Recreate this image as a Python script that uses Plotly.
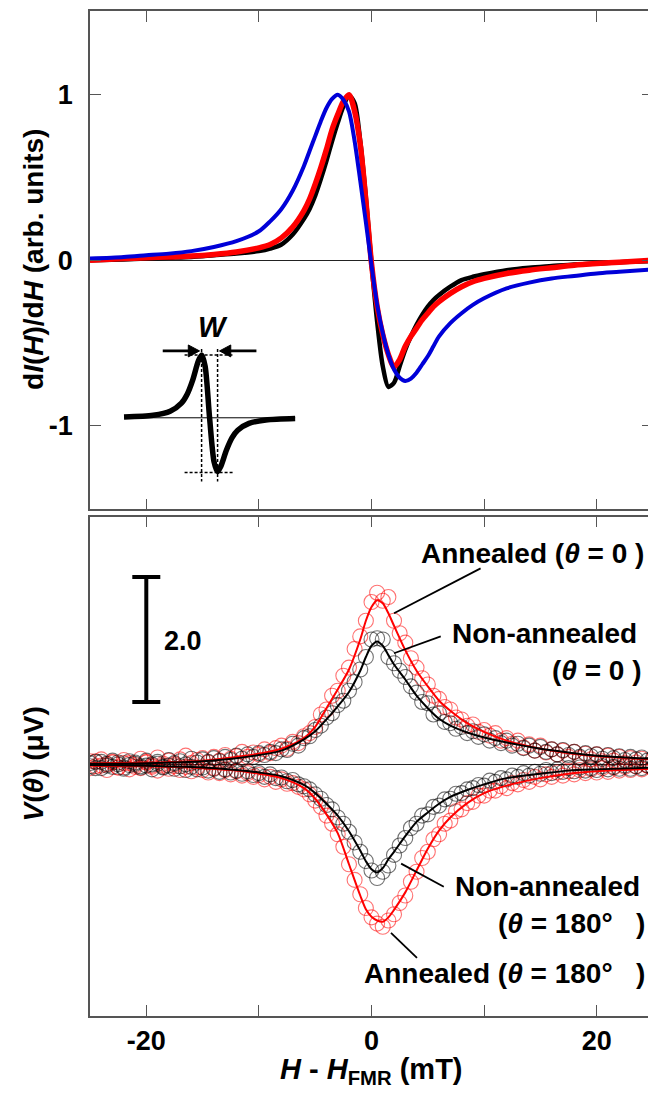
import plotly.graph_objects as go

# ---------------- top panel: FMR derivative spectra ----------------
top_field = [-25, -22, -20, -18, -16, -14, -12, -10, -9, -8, -7, -6, -5.5, -5, -4.5, -4, -3.5, -3,
             -2.5, -2, -1.5, -1, -0.5, 0, 0.5, 1, 1.5, 2, 2.5, 3, 3.5, 4, 4.5, 5, 5.5, 6,
             7, 8, 9, 10, 12, 14, 16, 18, 20, 22, 25]
fmr_black = [0.0, 0.005, 0.01, 0.015, 0.02, 0.03, 0.04, 0.055, 0.07, 0.095, 0.155, 0.25, 0.31, 0.39, 0.49, 0.6, 0.72, 0.83,
             0.93, 0.995, 0.95, 0.72, 0.38, -0.02, -0.37, -0.64, -0.765, -0.74, -0.64, -0.54, -0.46, -0.39, -0.33, -0.28, -0.24, -0.21,
             -0.16, -0.12, -0.1, -0.085, -0.06, -0.045, -0.035, -0.025, -0.02, -0.012, -0.005]
fmr_red = [0.0, 0.01, 0.015, 0.02, 0.025, 0.035, 0.05, 0.075, 0.095, 0.135, 0.2, 0.3, 0.37, 0.46, 0.56, 0.67, 0.79, 0.88,
           0.96, 1.0, 0.9, 0.7, 0.36, -0.02, -0.28, -0.45, -0.57, -0.645, -0.6, -0.52, -0.46, -0.41, -0.36, -0.32, -0.28, -0.25,
           -0.2, -0.16, -0.13, -0.11, -0.08, -0.06, -0.045, -0.03, -0.02, -0.012, 0.0]
fmr_blue = [0.01, 0.02, 0.03, 0.04, 0.055, 0.08, 0.115, 0.175, 0.235, 0.31, 0.42, 0.57, 0.66, 0.75, 0.84, 0.92, 0.975, 1.0,
            0.97, 0.9, 0.72, 0.48, 0.23, -0.03, -0.27, -0.44, -0.57, -0.66, -0.71, -0.73, -0.715, -0.68, -0.63, -0.58, -0.52, -0.46,
            -0.38, -0.32, -0.27, -0.23, -0.17, -0.135, -0.11, -0.095, -0.08, -0.07, -0.055]

# schematic inset (offsets from its centre)
inset_du = [-7.6, -5, -3.5, -2.5, -2, -1.5, -1.0, -0.7, -0.4, 0, 0.4, 0.7, 1.0, 1.5, 2, 2.5, 3.5, 5, 7.6]
inset_dv = [0.005, 0.015, 0.039, 0.088, 0.141, 0.228, 0.343, 0.38, 0.313, 0.0, -0.267, -0.325, -0.293, -0.195,
            -0.12, -0.075, -0.034, -0.013, -0.004]
inset_center = (-14.38, -0.952)

# ---------------- bottom panel: V(theta) ----------------
field_mT = [-25.0, -24.5, -24.0, -23.5, -23.0, -22.5, -22.0, -21.5, -21.0, -20.5,
            -20.0, -19.5, -19.0, -18.5, -18.0, -17.5, -17.0, -16.5, -16.0, -15.5,
            -15.0, -14.5, -14.0, -13.5, -13.0, -12.5, -12.0, -11.5, -11.0, -10.5,
            -10.0, -9.5, -9.0, -8.5, -8.0, -7.5, -7.0, -6.5, -6.0, -5.5,
            -5.0, -4.5, -4.0, -3.5, -3.0, -2.5, -2.0, -1.5, -1.0, -0.5,
            0.0, 0.5, 1.0, 1.5, 2.0, 2.5, 3.0, 3.5, 4.0, 4.5,
            5.0, 5.5, 6.0, 6.5, 7.0, 7.5, 8.0, 8.5, 9.0, 9.5,
            10.0, 10.5, 11.0, 11.5, 12.0, 12.5, 13.0, 13.5, 14.0, 14.5,
            15.0, 15.5, 16.0, 16.5, 17.0, 17.5, 18.0, 18.5, 19.0, 19.5,
            20.0, 20.5, 21.0, 21.5, 22.0, 22.5, 23.0, 23.5, 24.0, 24.5,
            25.0]
v_ann_0 = [0.05, -0.03, 0.08, 0.00, 0.04, -0.05, 0.07, 0.02, -0.04, 0.09,
           0.03, -0.02, 0.11, 0.01, 0.06, -0.03, 0.08, 0.14, 0.02, 0.07,
           0.10, 0.03, 0.12, 0.06, 0.15, 0.09, 0.13, 0.20, 0.12, 0.19,
           0.16, 0.24, 0.18, 0.26, 0.30, 0.25, 0.36, 0.34, 0.45, 0.50,
           0.60, 0.80, 0.88, 1.10, 1.18, 1.42, 1.55, 1.85, 2.05, 2.30,
           2.60, 2.75, 2.62, 2.68, 2.30, 2.10, 1.95, 1.70, 1.55, 1.38,
           1.28, 1.10, 1.05, 0.92, 0.88, 0.75, 0.72, 0.62, 0.64, 0.52,
           0.55, 0.46, 0.50, 0.38, 0.42, 0.33, 0.38, 0.27, 0.32, 0.22,
           0.30, 0.19, 0.24, 0.16, 0.22, 0.12, 0.20, 0.10, 0.17, 0.08,
           0.16, 0.05, 0.14, 0.06, 0.12, 0.02, 0.10, 0.03, 0.09, -0.02,
           0.07]
v_non_0 = [0.02, -0.06, 0.04, -0.02, 0.06, 0.00, -0.05, 0.05, 0.01, -0.03,
           0.06, 0.00, 0.04, -0.04, 0.07, 0.02, 0.05, 0.00, 0.09, 0.03,
           0.08, 0.04, 0.10, 0.05, 0.12, 0.07, 0.14, 0.09, 0.16, 0.12,
           0.18, 0.15, 0.20, 0.18, 0.24, 0.23, 0.33, 0.30, 0.42, 0.45,
           0.55, 0.62, 0.75, 0.82, 0.95, 1.02, 1.18, 1.32, 1.52, 1.72,
           2.00, 2.02, 2.00, 1.72, 1.62, 1.50, 1.40, 1.25, 1.15, 1.00,
           0.98, 0.80, 0.82, 0.68, 0.66, 0.57, 0.60, 0.50, 0.53, 0.44,
           0.48, 0.38, 0.42, 0.34, 0.38, 0.30, 0.33, 0.26, 0.30, 0.22,
           0.28, 0.20, 0.24, 0.16, 0.23, 0.15, 0.20, 0.12, 0.18, 0.13,
           0.16, 0.09, 0.15, 0.10, 0.13, 0.07, 0.12, 0.08, 0.11, 0.06,
           0.10]
v_non_180 = [-0.03, 0.04, -0.06, 0.01, -0.04, 0.03, -0.07, -0.01, 0.03, -0.05,
             -0.02, -0.08, 0.01, -0.05, -0.02, -0.07, -0.03, -0.09, -0.04, -0.08,
             -0.05, -0.10, -0.07, -0.12, -0.08, -0.13, -0.10, -0.15, -0.11, -0.17,
             -0.14, -0.20, -0.16, -0.22, -0.21, -0.27, -0.25, -0.32, -0.35, -0.40,
             -0.48, -0.55, -0.65, -0.72, -0.85, -0.95, -1.08, -1.25, -1.40, -1.55,
             -1.70, -1.82, -1.72, -1.62, -1.45, -1.30, -1.18, -1.02, -0.95, -0.82,
             -0.80, -0.68, -0.66, -0.56, -0.55, -0.47, -0.46, -0.40, -0.38, -0.33,
             -0.34, -0.26, -0.28, -0.22, -0.24, -0.18, -0.20, -0.14, -0.18, -0.12,
             -0.15, -0.09, -0.14, -0.08, -0.12, -0.06, -0.11, -0.05, -0.10, -0.06,
             -0.09, -0.03, -0.08, -0.04, -0.07, -0.02, -0.07, -0.03, -0.06, -0.01,
             -0.05]
v_ann_180 = [-0.06, 0.05, -0.02, -0.09, 0.03, -0.05, 0.02, -0.08, -0.01, -0.06,
             0.04, -0.04, -0.10, -0.02, -0.07, 0.00, -0.09, -0.04, -0.11, -0.05,
             -0.09, -0.13, -0.06, -0.14, -0.09, -0.16, -0.11, -0.18, -0.14, -0.20,
             -0.17, -0.24, -0.20, -0.28, -0.24, -0.31, -0.30, -0.36, -0.40, -0.48,
             -0.58, -0.68, -0.82, -0.95, -1.12, -1.32, -1.60, -1.85, -2.08, -2.30,
             -2.45, -2.55, -2.60, -2.50, -2.40, -2.22, -2.10, -1.88, -1.72, -1.50,
             -1.40, -1.20, -1.12, -0.95, -0.90, -0.75, -0.72, -0.62, -0.60, -0.50,
             -0.50, -0.42, -0.42, -0.35, -0.38, -0.30, -0.32, -0.25, -0.28, -0.20,
             -0.24, -0.16, -0.20, -0.13, -0.18, -0.11, -0.16, -0.09, -0.14, -0.08,
             -0.13, -0.06, -0.12, -0.05, -0.10, -0.04, -0.09, -0.03, -0.08, -0.02,
             -0.07]

fit_field = [-25, -20, -15, -12, -10, -8, -6, -5, -4, -3, -2, -1, -0.5, 0, 0.5, 1, 1.5, 2, 3, 4, 5, 6, 7,
             8.5, 10, 12, 15, 17.5, 20, 25]
fit_ann_0 = [0.02, 0.03, 0.06, 0.12, 0.17, 0.25, 0.42, 0.6, 0.9, 1.2, 1.52, 2.0, 2.3, 2.52, 2.63, 2.58, 2.42, 2.22,
             1.83, 1.5, 1.25, 1.02, 0.86, 0.66, 0.52, 0.38, 0.25, 0.18, 0.13, 0.08]
fit_non_0 = [0.01, 0.02, 0.05, 0.1, 0.15, 0.22, 0.4, 0.53, 0.72, 0.93, 1.16, 1.5, 1.72, 1.9, 1.97, 1.9, 1.75, 1.6,
             1.36, 1.1, 0.9, 0.73, 0.62, 0.51, 0.43, 0.35, 0.25, 0.19, 0.14, 0.09]
fit_non_180 = [-0.01, -0.02, -0.05, -0.09, -0.13, -0.19, -0.33, -0.46, -0.63, -0.82, -1.07, -1.38, -1.55, -1.68, -1.73,
               -1.66, -1.52, -1.4, -1.15, -0.92, -0.77, -0.63, -0.52, -0.41, -0.32, -0.22, -0.15, -0.1, -0.08, -0.05]
fit_ann_180 = [-0.02, -0.03, -0.06, -0.1, -0.15, -0.22, -0.38, -0.55, -0.8, -1.1, -1.6, -2.1, -2.32, -2.44, -2.5,
               -2.52, -2.45, -2.33, -2.05, -1.7, -1.35, -1.06, -0.85, -0.62, -0.46, -0.34, -0.22, -0.15, -0.11, -0.07]

scale_bar_x = -20
scale_bar_low = 1.0
scale_bar_high = 3.0

x_ticks_all = [-20, -10, 0, 10, 20]
x_ticks_labeled = [-20, 0, 20]
x_tick_text = ["-20", "0", "20"]
top_y_ticks = [-1, 0, 1]
top_y_tick_text = ["-1", "0", "1"]

FONT = "Liberation Sans, Arial, sans-serif"
RED = "#ff0000"
BLUE = "#0000d8"
NB = "\u00a0"

fig = go.Figure()

# top panel curves
fig.add_trace(go.Scatter(x=top_field, y=fmr_black, mode="lines", line=dict(color="black", width=4.5, shape="spline", smoothing=0.8),
                         xaxis="x", yaxis="y", showlegend=False))
fig.add_trace(go.Scatter(x=top_field, y=fmr_red, mode="lines", line=dict(color=RED, width=5.5, shape="spline", smoothing=0.8),
                         xaxis="x", yaxis="y", showlegend=False))
fig.add_trace(go.Scatter(x=top_field, y=fmr_blue, mode="lines", line=dict(color=BLUE, width=4, shape="spline", smoothing=0.8),
                         xaxis="x", yaxis="y", showlegend=False))

# inset schematic
cx, cy = inset_center
fig.add_trace(go.Scatter(x=[cx + u for u in inset_du], y=[cy + v for v in inset_dv], mode="lines",
                         line=dict(color="black", width=5.5, shape="spline", smoothing=0.8),
                         xaxis="x", yaxis="y", showlegend=False))

# bottom panel circles
for vals, col in [(v_ann_0, "rgba(255,0,0,0.55)"), (v_ann_180, "rgba(255,0,0,0.55)"),
                  (v_non_0, "rgba(0,0,0,0.55)"), (v_non_180, "rgba(0,0,0,0.55)")]:
    fig.add_trace(go.Scatter(x=field_mT, y=vals, mode="markers",
                             marker=dict(symbol="circle-open", size=15, color=col, line=dict(width=1.1, color=col)),
                             xaxis="x2", yaxis="y2", showlegend=False))
for vals, col in [(fit_ann_0, RED), (fit_ann_180, RED), (fit_non_0, "black"), (fit_non_180, "black")]:
    fig.add_trace(go.Scatter(x=fit_field, y=vals, mode="lines", line=dict(color=col, width=2, shape="spline", smoothing=0.8),
                             xaxis="x2", yaxis="y2", showlegend=False))

# scale bar
fig.add_trace(go.Scatter(x=[scale_bar_x], y=[(scale_bar_low + scale_bar_high) / 2], mode="markers",
                         marker=dict(size=1, color="rgba(0,0,0,0)"),
                         error_y=dict(type="data", array=[(scale_bar_high - scale_bar_low) / 2], visible=True,
                                      color="black", thickness=4, width=14),
                         xaxis="x2", yaxis="y2", showlegend=False))

axis_common = dict(showline=True, linecolor="#555", linewidth=1.5, mirror="ticks", ticks="inside",
                   ticklen=11, tickwidth=1.3, tickcolor="#555", showgrid=False,
                   tickfont=dict(family=FONT, size=27, color="black", weight="bold"))

fig.update_layout(
    width=648, height=1092,
    margin=dict(l=82, r=1, t=1, b=84),
    paper_bgcolor="white", plot_bgcolor="white",
    xaxis=dict(**axis_common, range=[-25, 25], tickvals=x_ticks_all, showticklabels=False, zeroline=False,
               anchor="y", domain=[0, 1]),
    yaxis=dict(**axis_common, range=[-1.506, 1.506], tickvals=top_y_ticks, ticktext=top_y_tick_text,
               zeroline=True, zerolinecolor="#222", zerolinewidth=1, domain=[0.504, 1.0], anchor="x",
               ticklabelstandoff=10),
    xaxis2=dict(**axis_common, range=[-25, 25], tickvals=x_ticks_labeled, ticktext=x_tick_text, zeroline=False,
                minor=dict(tick0=0, dtick=10, ticks="inside", ticklen=11, tickwidth=1.3, tickcolor="#555",
                           showgrid=False),
                anchor="y2", domain=[0, 1]),
    yaxis2=dict(showline=True, linecolor="#555", linewidth=1.5, mirror=True, ticks="", showticklabels=False,
                showgrid=False, range=[-4.03, 3.97], zeroline=True, zerolinecolor="#222", zerolinewidth=1,
                domain=[0.0, 0.497], anchor="x2"),
)

ann_font = dict(family=FONT, size=28, color="black", weight="bold")
annotations = [
    # axis titles
    dict(text="d<i>I</i>(<i>H</i>)/d<i>H</i> (arb. units)", xref="paper", yref="paper", x=-0.1, y=0.753,
         textangle=-90, showarrow=False, xanchor="center", yanchor="middle",
         font=dict(family=FONT, size=28, color="black", weight="bold")),
    dict(text="<i>V</i>(<i>θ</i>) (μV)", xref="paper", yref="paper", x=-0.1, y=0.251,
         textangle=-90, showarrow=False, xanchor="center", yanchor="middle",
         font=dict(family=FONT, size=28, color="black", weight="bold")),
    dict(text="<i>H</i> - <i>H</i><sub>FMR</sub> (mT)", xref="x2", yref="paper", x=0, y=-0.035,
         showarrow=False, xanchor="center", yanchor="top",
         font=dict(family=FONT, size=29, color="black", weight="bold")),
    # scale label
    dict(text="2.0", xref="x2", yref="y2", x=-18.6, y=1.97, showarrow=False, xanchor="left", yanchor="middle",
         font=dict(family=FONT, size=27, color="black", weight="bold")),
    # series labels
    dict(text="Annealed (<i>θ</i> = 0" + NB + ")", xref="x2", yref="y2", x=4.2, y=3.38, showarrow=False,
         xanchor="left", yanchor="middle", font=ann_font),
    dict(text="Non-annealed", xref="x2", yref="y2", x=7.0, y=2.1, showarrow=False,
         xanchor="left", yanchor="middle", font=ann_font),
    dict(text="(<i>θ</i> = 0" + NB + ")", xref="x2", yref="y2", x=24.2, y=1.51, showarrow=False,
         xanchor="right", yanchor="middle", font=ann_font),
    dict(text="Non-annealed", xref="x2", yref="y2", x=7.2, y=-1.96, showarrow=False,
         xanchor="left", yanchor="middle", font=ann_font),
    dict(text="(<i>θ</i> = 180°" + NB + NB + NB + ")", xref="x2", yref="y2", x=24.5, y=-2.55, showarrow=False,
         xanchor="right", yanchor="middle", font=ann_font),
    dict(text="Annealed (<i>θ</i> = 180°" + NB + NB + NB + ")", xref="x2", yref="y2", x=-0.85, y=-3.35,
         showarrow=False, xanchor="left", yanchor="middle", font=ann_font),
    # inset W label
    dict(text="<i>W</i>", xref="x", yref="y", x=-14.12, y=-0.404, showarrow=False, xanchor="center",
         yanchor="middle", font=dict(family=FONT, size=29, color="black", weight="bold")),
]
fig.update_layout(annotations=annotations)

dash = dict(color="black", width=1.5, dash="3px,2px")
arrow_y = -0.548
shapes = [
    # inset baseline
    dict(type="line", xref="x", yref="y", x0=cx + inset_du[0], x1=cx + inset_du[-1], y0=cy, y1=cy,
         line=dict(color="black", width=1)),
    # inset dashed guides
    dict(type="line", xref="x", yref="y", x0=-15.09, x1=-15.09, y0=-0.536, y1=-1.337, line=dash),
    dict(type="line", xref="x", yref="y", x0=-13.67, x1=-13.67, y0=-0.536, y1=-1.337, line=dash),
    dict(type="line", xref="x", yref="y", x0=-16.6, x1=-12.35, y0=-0.572, y1=-0.572, line=dash),
    dict(type="line", xref="x", yref="y", x0=-16.6, x1=-12.17, y0=-1.283, y1=-1.283, line=dash),
    # W arrows (shaft + head)
    dict(type="line", xref="x", yref="y", x0=-18.54, x1=-16.0, y0=arrow_y, y1=arrow_y,
         line=dict(color="black", width=2.8)),
    dict(type="path", xref="x", yref="y",
         path=f"M -15.27,{arrow_y} L -16.27,{arrow_y + 0.036} L -16.27,{arrow_y - 0.036} Z",
         fillcolor="black", line=dict(color="black", width=1)),
    dict(type="line", xref="x", yref="y", x0=-10.22, x1=-12.8, y0=arrow_y, y1=arrow_y,
         line=dict(color="black", width=2.8)),
    dict(type="path", xref="x", yref="y",
         path=f"M -13.5,{arrow_y} L -12.5,{arrow_y + 0.036} L -12.5,{arrow_y - 0.036} Z",
         fillcolor="black", line=dict(color="black", width=1)),
    # leader lines
    dict(type="line", xref="x2", yref="y2", x0=9.69, y0=3.14, x1=2.0, y1=2.42, line=dict(color="black", width=1.8)),
    dict(type="line", xref="x2", yref="y2", x0=6.15, y0=2.05, x1=2.0, y1=1.78, line=dict(color="black", width=1.8)),
    dict(type="line", xref="x2", yref="y2", x0=6.42, y0=-1.96, x1=2.63, y1=-1.59, line=dict(color="black", width=1.8)),
    dict(type="line", xref="x2", yref="y2", x0=4.04, y0=-3.1, x1=1.73, y1=-2.7, line=dict(color="black", width=1.8)),
]
fig.update_layout(shapes=shapes)

fig.write_html("out.html")
